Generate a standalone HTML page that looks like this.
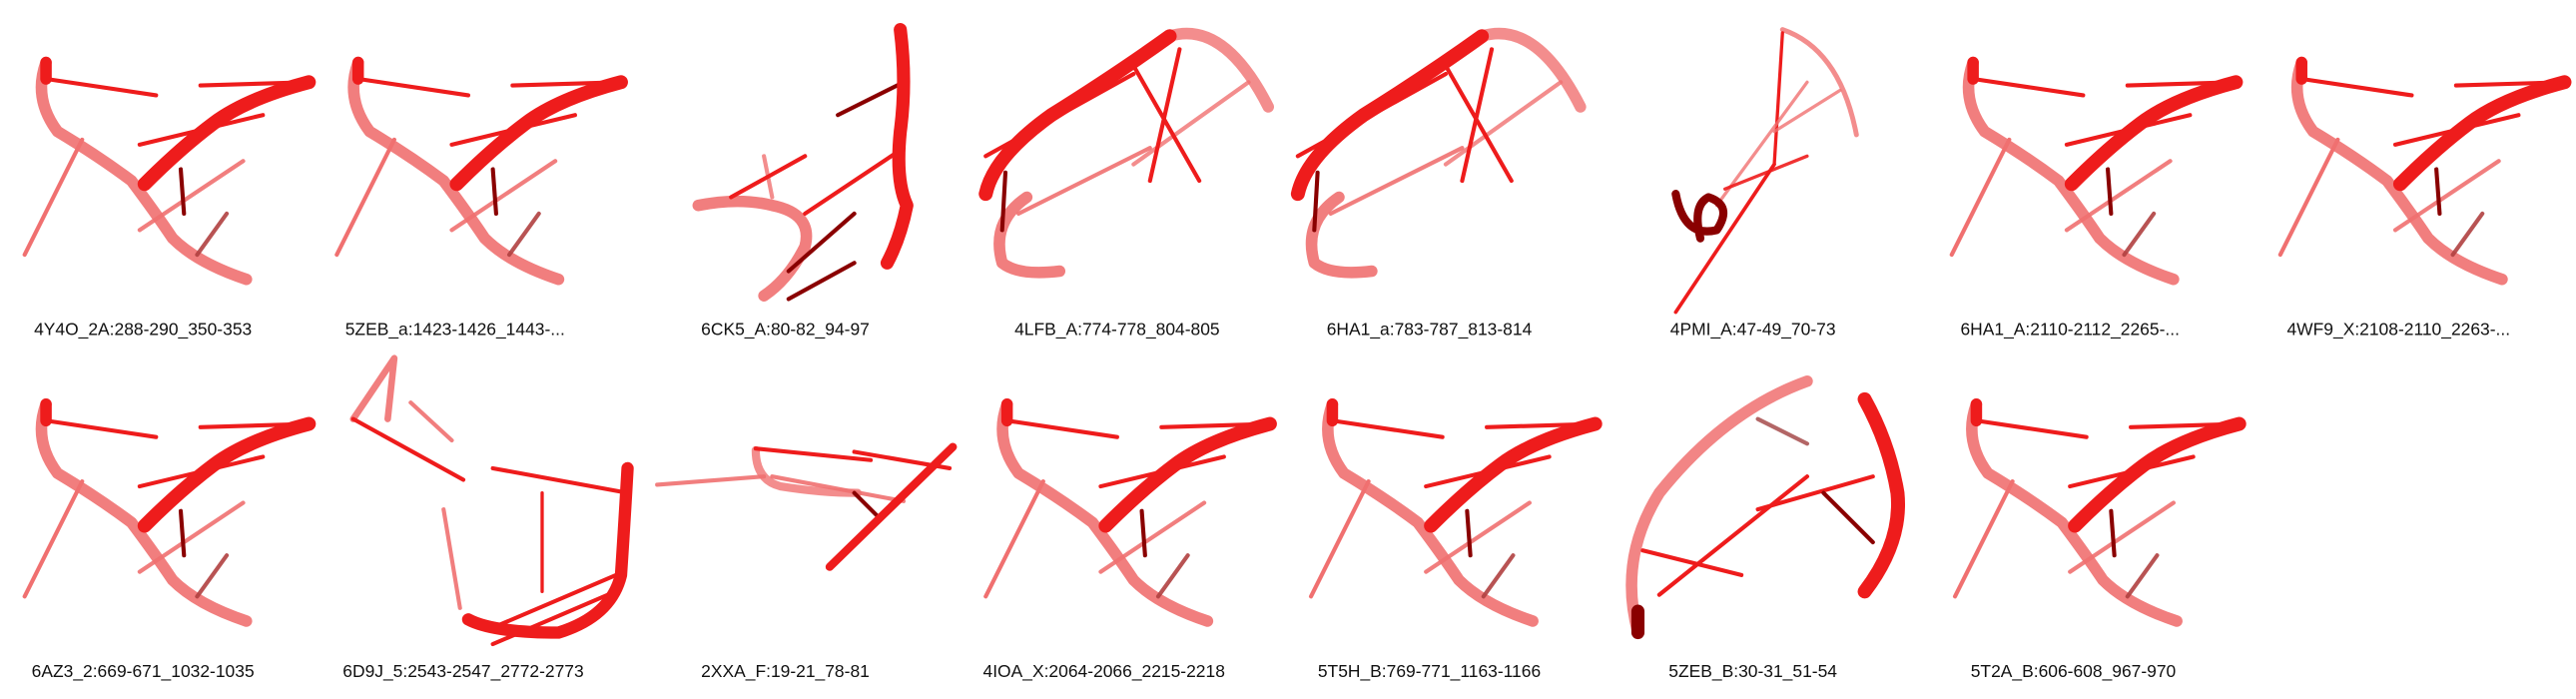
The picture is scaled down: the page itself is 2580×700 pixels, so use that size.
<!DOCTYPE html>
<html><head><meta charset="utf-8"><style>
html,body{margin:0;padding:0;background:#fff}
svg{display:block}
text{font-family:"Liberation Sans",Arial,sans-serif;font-size:10.6px;fill:#111}
</style></head><body>
<svg id="fig" width="2580" height="700" viewBox="0 0 1568 425.4" xmlns="http://www.w3.org/2000/svg">
</svg>
<script>
const labels=["4Y4O_2A:288-290_350-353","5ZEB_a:1423-1426_1443-...","6CK5_A:80-82_94-97","4LFB_A:774-778_804-805","6HA1_a:783-787_813-814","4PMI_A:47-49_70-73","6HA1_A:2110-2112_2265-...","4WF9_X:2108-2110_2263-...","6AZ3_2:669-671_1032-1035","6D9J_5:2543-2547_2772-2773","2XXA_F:19-21_78-81","4IOA_X:2064-2066_2215-2218","5T5H_B:769-771_1163-1166","5ZEB_B:30-31_51-54","5T2A_B:606-608_967-970"];
const centers=[87,277,478,680,870,1067,1260,1460,87,282,478,672,870,1067,1262];
const rows=[0,0,0,0,0,0,0,0,1,1,1,1,1,1,1];
const types=["A","A","C","B","B","P","A","A","A","D","X","A","A","Z","A"];
const LIGHT="#f07070",RED="#ee1c1c",DARK="#8a0000";
const T={
A:[["p","M28,38 Q20,60 35,80 Q60,95 80,110 Q95,130 105,145 Q120,160 150,170",LIGHT,7,0.9],
 ["l",[28,48,95,58],RED,2.5,1],["l",[85,88,160,70],RED,2.5,1],["l",[50,85,15,155],LIGHT,2.5,1],
 ["l",[85,140,148,98],LIGHT,2.5,0.9],["l",[120,155,138,130],"#b04040",2.5,0.9],
 ["l",[122,52,188,50],RED,2.5,1],
 ["p","M28,38 L28,48",RED,7,1],
 ["p","M88,112 Q110,90 130,75 Q150,60 188,50",RED,8.5,1],["l",[110,103,112,130],DARK,2.5,1]],
B:[["p","M625,120 Q603,135 610,160 Q620,168 645,165",LIGHT,7,0.9],["p","M712,22 Q745,12 772,65",LIGHT,7,0.8],
 ["l",[620,130,700,90],LIGHT,2.5,0.9],["l",[690,100,760,50],LIGHT,2.5,0.8],
 ["l",[600,95,690,45],RED,2.5,1],["l",[700,110,718,30],RED,2.5,1],["l",[690,40,730,110],RED,2.5,1],
 ["p","M600,118 Q605,95 640,70 Q680,45 712,22",RED,8.5,1],["l",[610,140,612,105],DARK,2.5,1]],
C:[["p","M425,125 Q450,120 470,125 Q495,130 490,150 Q480,170 465,180",LIGHT,7,0.9],
 ["l",[465,95,470,120],LIGHT,2.5,0.8],["l",[445,120,490,95],RED,2.5,1],["l",[490,130,550,90],RED,2.5,1],
 ["l",[510,70,550,50],DARK,2.5,1],["l",[480,165,520,130],DARK,2.5,1],["l",[480,182,520,160],DARK,2.5,1],
 ["p","M548,18 Q552,50 548,80 Q545,110 552,125 Q548,145 540,160",RED,8,1]],
P:[["p","M1085,18 Q1120,30 1130,82",LIGHT,3,0.8],["l",[1085,20,1080,100],RED,2,1],
 ["l",[1045,125,1100,50],LIGHT,2,0.8],["l",[1080,80,1120,55],LIGHT,2,0.8],["l",[1050,115,1100,95],RED,2,0.9],
 ["p","M1020,118 Q1025,145 1045,140 Q1055,125 1040,120 Q1030,125 1035,145",DARK,5,1],
 ["l",[1020,190,1080,100],RED,2.2,1]],
D:[["p","M215,255 L240,218 L236,255",LIGHT,4,0.9],["l",[215,255,282,292],RED,2.5,1],["l",[250,245,275,268],LIGHT,2.5,0.9],
 ["l",[270,310,280,370],LIGHT,2.5,0.9],["l",[300,285,382,300],RED,2.5,1],["l",[330,300,330,360],RED,2,1],
 ["l",[300,382,375,350],RED,2.5,1],["l",[300,392,370,362],RED,2.5,1],
 ["p","M382,285 Q380,320 378,350 Q372,375 340,385 Q300,385 285,377",RED,7.5,1]],
X:[["l",[400,295,465,290],LIGHT,2.5,0.9],["p","M460,274 Q460,292 475,296 Q500,300 522,300",LIGHT,5,0.8],
 ["l",[460,273,530,280],RED,2.5,1],["l",[520,275,578,285],RED,2.5,1],["l",[470,290,550,305],LIGHT,2.5,0.9],
 ["l",[520,300,535,315],DARK,2.5,1],["p","M505,345 L580,272",RED,5,1]],
Z:[["p","M997,385 Q985,340 1010,300 Q1050,250 1100,232",LIGHT,7,0.85],["l",[1070,255,1100,270],"#a04040",2.5,0.8],
 ["l",[1000,335,1060,350],RED,2.5,1],["l",[1010,362,1100,290],RED,2.5,1],["l",[1070,310,1140,290],RED,2.5,1],
 ["l",[1110,300,1140,330],DARK,2.5,1],["p","M997,372 L997,385",DARK,8,1],
 ["p","M1135,243 Q1150,270 1155,300 Q1158,330 1135,360",RED,8.5,1]]
};
const base={A:87,B:680,C:478,P:1067,D:282,X:478,Z:1067};
const baseRow={A:0,B:0,C:0,P:0,D:1,X:1,Z:1};
const NS="http://www.w3.org/2000/svg",svg=document.getElementById("fig");
labels.forEach((lab,i)=>{
  const t=types[i];
  const dx=centers[i]-base[t],dy=(rows[i]-baseRow[t])*208;
  const g=document.createElementNS(NS,"g");
  
  
  g.setAttribute("transform","translate("+dx+","+dy+")");
  T[t].forEach(e=>{
    let el;
    if(e[0]==="l"){el=document.createElementNS(NS,"line");
      el.setAttribute("x1",e[1][0]);el.setAttribute("y1",e[1][1]);el.setAttribute("x2",e[1][2]);el.setAttribute("y2",e[1][3]);
      }
    else{el=document.createElementNS(NS,"path");el.setAttribute("d",e[1]);el.setAttribute("fill","none");
      }
    
    el.setAttribute("stroke",e[2]);el.setAttribute("stroke-width",e[3]);el.setAttribute("stroke-opacity",e[4]);
    el.setAttribute("stroke-linecap","round");el.setAttribute("stroke-linejoin","round");
    g.appendChild(el);
  });
  svg.appendChild(g);
  const tx=document.createElementNS(NS,"text");
  
  
  tx.setAttribute("x",centers[i]);tx.setAttribute("y",rows[i]?412:204);tx.setAttribute("text-anchor","middle");
  tx.textContent=lab;svg.appendChild(tx);
});
</script>
</body></html>
